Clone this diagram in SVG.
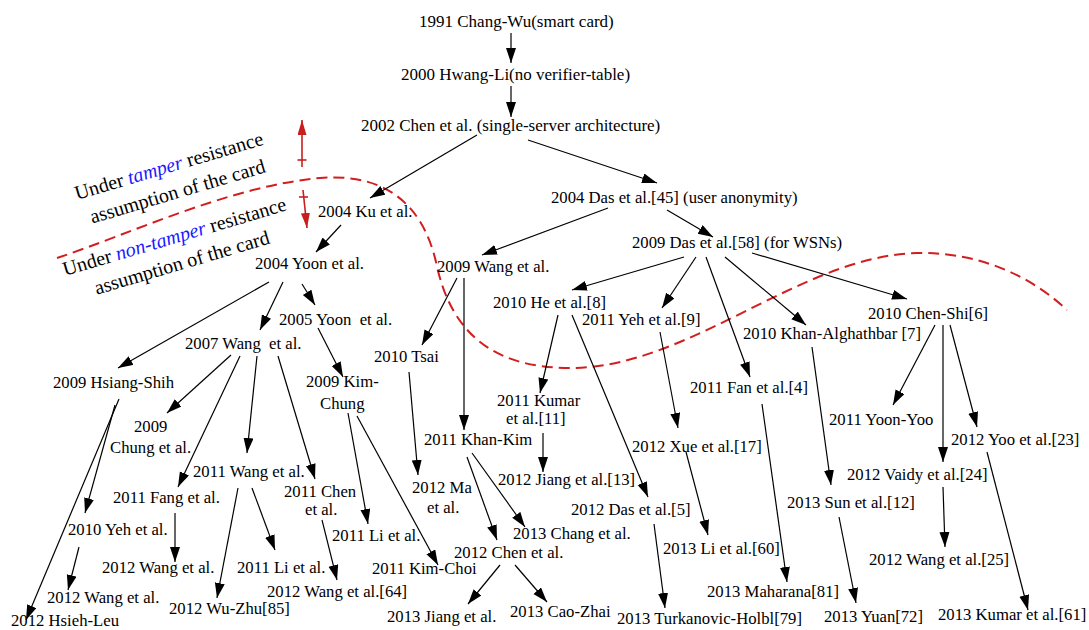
<svg xmlns="http://www.w3.org/2000/svg" width="1089" height="630" viewBox="0 0 1089 630">
<style>
text{font-family:"Liberation Serif","Times New Roman",serif;font-size:16.7px;fill:#000}
.top{font-size:17px}
.big{font-size:20px}
.it{font-style:italic;fill:#1a1aff}
.e{stroke:#000;stroke-width:1.2;fill:none;marker-end:url(#ah)}
.r{stroke:#c81e1e;stroke-width:1.6;fill:none}
.ra{marker-end:url(#rh)}
.dash{stroke:#d21e1e;stroke-width:2;fill:none;stroke-dasharray:11 6}
</style>
<defs>
<marker id="ah" markerUnits="userSpaceOnUse" markerWidth="16" markerHeight="11" refX="15" refY="5" orient="auto">
<path d="M0,0 L15,5 L0,10 z" fill="#000"/>
</marker>
<marker id="rh" markerUnits="userSpaceOnUse" markerWidth="16" markerHeight="10" refX="15" refY="4.5" orient="auto">
<path d="M0,0 L15,4.5 L0,9 z" fill="#c81e1e"/>
</marker>
</defs>
<rect width="1089" height="630" fill="#fff"/>

<path class="dash" d="M57,258 C130,234 230,186 320,178 C395,172 425,215 436,262 C450,330 490,368 570,368 C690,368 800,256 917,253 C985,252 1035,280 1067,310"/>
<g id="tamper-arrows">
<line class="r ra" x1="302" y1="167" x2="302" y2="120"/>
<line class="r" x1="297.5" y1="160" x2="306.5" y2="160"/>
<line class="r ra" x1="303" y1="190" x2="307" y2="228"/>
<line class="r" x1="299" y1="197" x2="308" y2="197"/>
</g>
<g id="label-tamper" transform="translate(77,200) rotate(-16.5)">
<text class="big" x="0" y="0">Under <tspan class="it">tamper</tspan> resistance</text>
<text class="big" x="8" y="27">assumption of the card</text>
</g>
<g id="label-nontamper" transform="translate(65,276) rotate(-16.5)">
<text class="big" x="0" y="0">Under <tspan class="it">non-tamper</tspan> resistance</text>
<text class="big" x="25" y="27">assumption of the card</text>
</g>

<g id="edges">
<line class="e" x1="511" y1="33" x2="511" y2="63"/>
<line class="e" x1="511" y1="86" x2="511" y2="117"/>
<line class="e" x1="477" y1="135" x2="370" y2="198"/>
<line class="e" x1="528" y1="140" x2="657" y2="183"/>
<line class="e" x1="341" y1="225" x2="316" y2="252"/>
<line class="e" x1="269" y1="282" x2="118" y2="368"/>
<line class="e" x1="283" y1="282" x2="260" y2="330"/>
<line class="e" x1="302" y1="284" x2="315" y2="305"/>
<line class="e" x1="318" y1="328" x2="343" y2="377"/>
<line class="e" x1="231" y1="355" x2="167" y2="413"/>
<line class="e" x1="240" y1="356" x2="178" y2="487"/>
<line class="e" x1="257" y1="356" x2="247" y2="453"/>
<line class="e" x1="278" y1="356" x2="315" y2="479"/>
<line class="e" x1="115" y1="405" x2="85" y2="513"/>
<line class="e" x1="119" y1="399" x2="26" y2="620"/>
<line class="e" x1="175" y1="513" x2="175" y2="562"/>
<line class="e" x1="79" y1="547" x2="68" y2="590"/>
<line class="e" x1="238" y1="488" x2="217" y2="598"/>
<line class="e" x1="252" y1="488" x2="275" y2="550"/>
<line class="e" x1="322" y1="520" x2="337" y2="580"/>
<line class="e" x1="348" y1="413" x2="368" y2="524"/>
<line class="e" x1="357" y1="416" x2="438" y2="565"/>
<line class="e" x1="608" y1="208" x2="482" y2="255"/>
<line class="e" x1="667" y1="210" x2="713" y2="237"/>
<line class="e" x1="457" y1="278" x2="422" y2="345"/>
<line class="e" x1="464" y1="278" x2="464" y2="430"/>
<line class="e" x1="409" y1="372" x2="418" y2="475"/>
<line class="e" x1="684" y1="257" x2="572" y2="290"/>
<line class="e" x1="696" y1="257" x2="662" y2="308"/>
<line class="e" x1="706" y1="257" x2="750" y2="377"/>
<line class="e" x1="725" y1="257" x2="806" y2="325"/>
<line class="e" x1="752" y1="253" x2="907" y2="299"/>
<line class="e" x1="558" y1="315" x2="540" y2="393"/>
<line class="e" x1="572" y1="315" x2="648" y2="497"/>
<line class="e" x1="660" y1="332" x2="678" y2="428"/>
<line class="e" x1="543" y1="433" x2="543" y2="472"/>
<line class="e" x1="467" y1="457" x2="497" y2="540"/>
<line class="e" x1="472" y1="453" x2="525" y2="527"/>
<line class="e" x1="500" y1="565" x2="468" y2="604"/>
<line class="e" x1="515" y1="565" x2="547" y2="602"/>
<line class="e" x1="654" y1="524" x2="665" y2="608"/>
<line class="e" x1="686" y1="452" x2="708" y2="535"/>
<line class="e" x1="762" y1="404" x2="787" y2="582"/>
<line class="e" x1="812" y1="347" x2="831" y2="485"/>
<line class="e" x1="935" y1="325" x2="893" y2="405"/>
<line class="e" x1="943" y1="325" x2="943" y2="462"/>
<line class="e" x1="950" y1="325" x2="977" y2="427"/>
<line class="e" x1="943" y1="487" x2="945" y2="547"/>
<line class="e" x1="839" y1="517" x2="856" y2="603"/>
<line class="e" x1="987" y1="452" x2="1028" y2="610"/>
</g>

<g id="n1991"><text class="top" x="419" y="27">1991 Chang-Wu(smart card)</text></g>
<g id="n2000"><text class="top" x="401" y="80">2000 Hwang-Li(no verifier-table)</text></g>
<g id="n2002"><text class="top" x="361" y="131">2002 Chen et al. (single-server architecture)</text></g>
<g id="n2004ku"><text x="318" y="217">2004 Ku et al.</text></g>
<g id="n2004das"><text x="551" y="203">2004 Das et al.[45] (user anonymity)</text></g>
<g id="n2004yoon"><text x="255" y="269">2004 Yoon et al.</text></g>
<g id="n2005yoon"><text x="279" y="325">2005 Yoon&#160; et al.</text></g>
<g id="n2007wang"><text x="185" y="349">2007 Wang&#160; et al.</text></g>
<g id="n2009hs"><text x="53" y="388">2009 Hsiang-Shih</text></g>
<g id="n2009kc"><text x="306" y="387">2009 Kim-</text><text x="320" y="409">Chung</text></g>
<g id="n2009chung"><text x="134" y="432">2009</text><text x="110" y="453">Chung et al.</text></g>
<g id="n2011wang"><text x="193" y="477">2011 Wang et al.</text></g>
<g id="n2011fang"><text x="113" y="503">2011 Fang et al.</text></g>
<g id="n2011chen"><text x="284" y="497">2011 Chen</text><text x="305" y="515">et al.</text></g>
<g id="n2010yeh"><text x="68" y="535">2010 Yeh et al.</text></g>
<g id="n2012wangA"><text x="102" y="573">2012 Wang et al.</text></g>
<g id="n2011liA"><text x="237" y="573">2011 Li et al.</text></g>
<g id="n2011liB"><text x="332" y="541">2011 Li et al.</text></g>
<g id="n2012wangB"><text x="47" y="603">2012 Wang et al.</text></g>
<g id="n2012wang64"><text x="267" y="597">2012 Wang et al.[64]</text></g>
<g id="n2012wuzhu"><text x="169" y="614">2012 Wu-Zhu[85]</text></g>
<g id="n2012hl"><text x="11" y="626">2012 Hsieh-Leu</text></g>
<g id="n2011kimchoi"><text x="372" y="574">2011 Kim-Choi</text></g>
<g id="n2010tsai"><text x="374" y="362">2010 Tsai</text></g>
<g id="n2012ma"><text x="412" y="493">2012 Ma</text><text x="427" y="513">et al.</text></g>
<g id="n2011kk"><text x="424" y="445">2011 Khan-Kim</text></g>
<g id="n2009wang"><text x="437" y="272">2009 Wang et al.</text></g>
<g id="n2009das"><text x="632" y="248">2009 Das et al.[58] (for WSNs)</text></g>
<g id="n2010he"><text x="493" y="308">2010 He et al.[8]</text></g>
<g id="n2011yeh"><text x="582" y="325">2011 Yeh et al.[9]</text></g>
<g id="n2011kumar"><text x="497" y="406">2011 Kumar</text><text x="506" y="424">et al.[11]</text></g>
<g id="n2012jiang"><text x="498" y="485">2012 Jiang et al.[13]</text></g>
<g id="n2012das"><text x="571" y="515">2012 Das et al.[5]</text></g>
<g id="n2013chang"><text x="513" y="539">2013 Chang et al.</text></g>
<g id="n2012chen"><text x="454" y="558">2012 Chen et al.</text></g>
<g id="n2013jiang"><text x="387" y="622">2013 Jiang et al.</text></g>
<g id="n2013cz"><text x="510" y="617">2013 Cao-Zhai</text></g>
<g id="n2013th"><text x="617" y="624">2013 Turkanovic-Holbl[79]</text></g>
<g id="n2012xue"><text x="632" y="452">2012 Xue et al.[17]</text></g>
<g id="n2011fan"><text x="690" y="393">2011 Fan et al.[4]</text></g>
<g id="n2013li"><text x="663" y="554">2013 Li et al.[60]</text></g>
<g id="n2013mah"><text x="707" y="597">2013 Maharana[81]</text></g>
<g id="n2010ka"><text x="743" y="339">2010 Khan-Alghathbar [7]</text></g>
<g id="n2010cs"><text x="868" y="319">2010 Chen-Shi[6]</text></g>
<g id="n2011yy"><text x="829" y="425">2011 Yoon-Yoo</text></g>
<g id="n2012yoo"><text x="951" y="445">2012 Yoo et al.[23]</text></g>
<g id="n2012vaidy"><text x="847" y="480">2012 Vaidy et al.[24]</text></g>
<g id="n2013sun"><text x="787" y="508">2013 Sun et al.[12]</text></g>
<g id="n2012wang25"><text x="869" y="565">2012 Wang et al.[25]</text></g>
<g id="n2013yuan"><text x="824" y="622">2013 Yuan[72]</text></g>
<g id="n2013kumar"><text x="938" y="620">2013 Kumar et al.[61]</text></g>
</svg>
